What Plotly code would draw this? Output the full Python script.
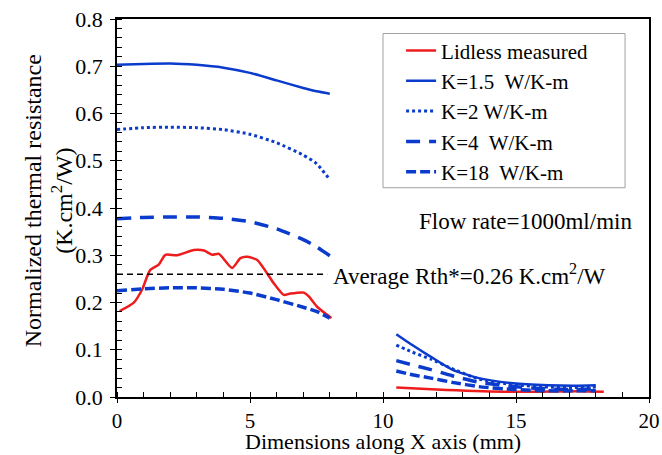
import plotly.graph_objects as go

# ---- data ----
x_left = [0, 1, 2, 3, 4, 5, 6, 7, 7.5, 8]
k15_left = [0.703, 0.705, 0.706, 0.703, 0.697, 0.686, 0.670, 0.654, 0.647, 0.642]
k2_left = [0.566, 0.570, 0.571, 0.570, 0.566, 0.556, 0.538, 0.512, 0.494, 0.460]
k4_left = [0.377, 0.380, 0.381, 0.381, 0.378, 0.371, 0.356, 0.333, 0.318, 0.299]
k18_left = [0.225, 0.229, 0.231, 0.231, 0.228, 0.220, 0.206, 0.190, 0.181, 0.167]

x_right = [10.5, 11.1, 11.8, 12.6, 13.6, 14.9, 16.2, 17.2, 18.0]
k15_right = [0.133, 0.110, 0.085, 0.058, 0.040, 0.029, 0.025, 0.024, 0.025]
k2_right = [0.110, 0.095, 0.080, 0.060, 0.038, 0.026, 0.021, 0.020, 0.021]
k4_right = [0.077, 0.068, 0.058, 0.045, 0.031, 0.022, 0.017, 0.016, 0.017]
k18_right = [0.055, 0.047, 0.040, 0.031, 0.022, 0.016, 0.013, 0.013, 0.013]

meas_x_left = [0.1, 0.62, 0.94, 1.25, 1.57, 1.82, 2.26, 2.89, 3.27, 3.58, 3.83, 4.33,
               4.64, 4.89, 5.27, 5.64, 5.89, 6.27, 6.52, 7.02, 7.21, 7.52, 8.06]
meas_y_left = [0.182, 0.199, 0.227, 0.269, 0.280, 0.301, 0.300, 0.311, 0.310, 0.301, 0.303, 0.273,
               0.294, 0.297, 0.290, 0.262, 0.241, 0.216, 0.219, 0.221, 0.213, 0.191, 0.167]
meas_x_right = [10.5, 12.4, 14.9, 17.4, 18.3]
meas_y_right = [0.020, 0.015, 0.011, 0.012, 0.011]

avg_x = [0, 7.9]
avg_y = [0.26, 0.26]

x_major = [0, 5, 10, 15, 20]
y_major = [0.0, 0.1, 0.2, 0.3, 0.4, 0.5, 0.6, 0.7, 0.8]

RED = "#ee1c1c"
BLUE = "#0b3bcc"
FONT = "Liberation Serif, Times New Roman, serif"

fig = go.Figure()

def add(xs, ys, color, dash, width, name, show):
    fig.add_trace(go.Scatter(x=xs, y=ys, mode="lines", name=name, legendgroup=name,
                             showlegend=show,
                             line=dict(color=color, dash=dash, width=width, shape="spline", smoothing=0.6)))

series = [
    ("Lidless measured", meas_x_left, meas_y_left, meas_x_right, meas_y_right, RED, "solid", 2.5),
    ("K=1.5  W/K-m", x_left, k15_left, x_right, k15_right, BLUE, "solid", 2.5),
    ("K=2 W/K-m", x_left, k2_left, x_right, k2_right, BLUE, "dot", 3),
    ("K=4  W/K-m", x_left, k4_left, x_right, k4_right, BLUE, "14px,9px", 3.5),
    ("K=18  W/K-m", x_left, k18_left, x_right, k18_right, BLUE, "10px,4px", 3.5),
]
for name, xl, yl, xr, yr, c, d, w in series:
    add(xl, yl, c, d, w, name, True)
    add(xr, yr, c, d, w, name, False)

# average line drawn on overlay axes (same ranges) that carry inward major ticks
fig.add_trace(go.Scatter(x=avg_x, y=avg_y, mode="lines", showlegend=False, xaxis="x2", yaxis="y2",
                         line=dict(color="black", dash="6px,4px", width=1.5)))

fig.add_annotation(x=8.05, y=0.26, xref="x", yref="y", xanchor="left", yanchor="middle",
                   text="Average Rth*=0.26 K.cm<sup>2</sup>/W", showarrow=False,
                   font=dict(family=FONT, size=23, color="black"))
fig.add_annotation(x=19.45, y=0.371, xref="x", yref="y", xanchor="right", yanchor="middle",
                   text="Flow rate=1000ml/min", showarrow=False,
                   font=dict(family=FONT, size=23, color="black"))
# y-axis title (two centred lines)
fig.add_annotation(x=-0.1288, y=0.519, xref="paper", yref="paper", xanchor="center", yanchor="middle",
                   text="Normalized thermal resistance<br>(K.cm<sup>2</sup>/W)", showarrow=False,
                   textangle=-90, font=dict(family=FONT, size=24, color="black"))
# x-axis title
fig.add_annotation(x=0.5, y=-0.1166, xref="paper", yref="paper", xanchor="center", yanchor="middle",
                   text="Dimensions along X axis (mm)", showarrow=False,
                   font=dict(family=FONT, size=22, color="black"))

# legend frame
fig.add_shape(type="rect", xref="paper", yref="paper", x0=0.5, x1=0.955, y0=0.5536, y1=0.9616,
              line=dict(color="#a0a0a0", width=1), fillcolor="rgba(0,0,0,0)", layer="below")

fig.update_layout(
    width=662, height=455,
    margin=dict(l=117, r=13, t=19, b=58),
    paper_bgcolor="white", plot_bgcolor="white",
    font=dict(family=FONT, size=22, color="black"),
    showlegend=True,
    legend=dict(x=0.534, y=0.970, xanchor="left", yanchor="top",
                borderwidth=0, bgcolor="rgba(0,0,0,0)",
                font=dict(family=FONT, size=21, color="black"),
                itemwidth=30, tracegroupgap=0),
    xaxis=dict(range=[0, 20], tickvals=x_major, showline=True, linecolor="black",
               linewidth=1.5, mirror=True, ticks="outside", ticklen=4, tickcolor="black",
               tickfont=dict(family=FONT, size=21),
               showgrid=False, zeroline=False, automargin=False,
               minor=dict(dtick=1, ticks="inside", ticklen=5, tickcolor="black")),
    yaxis=dict(range=[0, 0.8], tickvals=y_major, tickformat=".1f", showline=True, linecolor="black",
               linewidth=1.5, mirror=True, ticks="outside", ticklen=5, tickcolor="black",
               tickfont=dict(family=FONT, size=22), ticklabelstandoff=3,
               showgrid=False, zeroline=False, automargin=False,
               minor=dict(dtick=0.02, ticks="inside", ticklen=5, tickcolor="black")),
    xaxis2=dict(range=[0, 20], overlaying="x", tickvals=x_major, ticks="inside", ticklen=5,
                tickcolor="black", showticklabels=False, showgrid=False, zeroline=False,
                showline=False, side="bottom"),
    yaxis2=dict(range=[0, 0.8], overlaying="y", tickvals=y_major, ticks="inside", ticklen=5,
                tickcolor="black", showticklabels=False, showgrid=False, zeroline=False,
                showline=False, side="left"),
)

fig.write_html("out.html", config={"displayModeBar": False},
               post_script="document.body.style.margin='0';document.body.style.overflow='hidden';")
